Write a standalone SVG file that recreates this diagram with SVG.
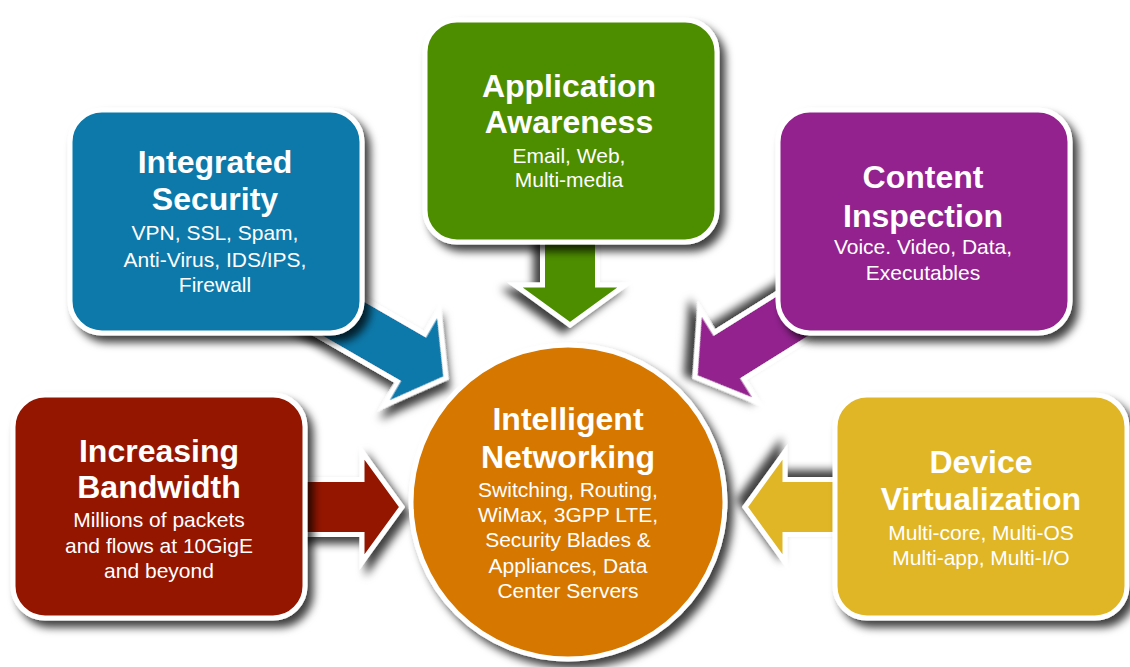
<svg xmlns="http://www.w3.org/2000/svg" width="1130" height="667" viewBox="0 0 1130 667">
<defs>
<filter id="sh" x="-20%" y="-20%" width="150%" height="150%">
<feDropShadow dx="6" dy="7" stdDeviation="4" flood-color="#000" flood-opacity="0.75"/>
</filter>
<polygon id="arr" points="-170,-27.5 -40,-27.5 -40,-55 0,0 -40,55 -40,27.5 -170,27.5"/>
</defs>
<style>
.box{stroke:#fff;stroke-width:5;filter:url(#sh)}
.ar{stroke:#fff;stroke-width:5;stroke-linejoin:miter;filter:url(#sh)}
.t{font-family:"Liberation Sans",Arial,sans-serif;font-weight:bold;font-size:32px;fill:#fff;text-anchor:middle}
.s{font-family:"Liberation Sans",Arial,sans-serif;font-size:21px;fill:#fff;text-anchor:middle}
</style>
<rect width="1130" height="667" fill="#fff"/>
<g id="connectors">
<use href="#arr" class="ar" fill="#941600" transform="translate(402,507)"/>
<use href="#arr" class="ar" fill="#0779aa" transform="translate(446,378) rotate(30)"/>
<use href="#arr" class="ar" fill="#4d8e00" transform="translate(570,325) rotate(90)"/>
<use href="#arr" class="ar" fill="#93218f" transform="translate(695,377) rotate(148)"/>
<use href="#arr" class="ar" fill="#e0b626" transform="translate(745,507) rotate(180)"/>
</g>
<g id="bandwidth">
<rect class="box" x="13" y="395" width="292" height="223" rx="32" fill="#941600"/>
<text class="t" x="159" y="462">Increasing</text>
<text class="t" x="159" y="498">Bandwidth</text>
<text class="s" x="159" y="527">Millions of packets</text>
<text class="s" x="159" y="553">and flows at 10GigE</text>
<text class="s" x="159" y="578">and beyond</text>
</g>
<g id="security">
<rect class="box" x="70" y="110" width="292" height="223" rx="32" fill="#0779aa"/>
<text class="t" x="215" y="173">Integrated</text>
<text class="t" x="215" y="210">Security</text>
<text class="s" x="215" y="240">VPN, SSL, Spam,</text>
<text class="s" x="215" y="267">Anti-Virus, IDS/IPS,</text>
<text class="s" x="215" y="292">Firewall</text>
</g>
<g id="application">
<rect class="box" x="425" y="20" width="292" height="222" rx="32" fill="#4d8e00"/>
<text class="t" x="569" y="97">Application</text>
<text class="t" x="569" y="133">Awareness</text>
<text class="s" x="569" y="163">Email, Web,</text>
<text class="s" x="569" y="187">Multi-media</text>
</g>
<g id="content">
<rect class="box" x="778" y="110" width="292" height="223" rx="32" fill="#93218f"/>
<text class="t" x="923" y="188">Content</text>
<text class="t" x="923" y="227">Inspection</text>
<text class="s" x="923" y="254">Voice. Video, Data,</text>
<text class="s" x="923" y="280">Executables</text>
</g>
<g id="virtualization">
<rect class="box" x="835" y="395" width="292" height="223" rx="32" fill="#e0b626"/>
<text class="t" x="981" y="473">Device</text>
<text class="t" x="981" y="510">Virtualization</text>
<text class="s" x="981" y="540">Multi-core, Multi-OS</text>
<text class="s" x="981" y="565">Multi-app, Multi-I/O</text>
</g>
<g id="networking">
<circle class="box" cx="568" cy="502" r="157" fill="#d67700"/>
<text class="t" x="568" y="430">Intelligent</text>
<text class="t" x="568" y="468">Networking</text>
<text class="s" x="568" y="497">Switching, Routing,</text>
<text class="s" x="568" y="522">WiMax, 3GPP LTE,</text>
<text class="s" x="568" y="547">Security Blades &amp;</text>
<text class="s" x="568" y="573">Appliances, Data</text>
<text class="s" x="568" y="598">Center Servers</text>
</g>
</svg>
